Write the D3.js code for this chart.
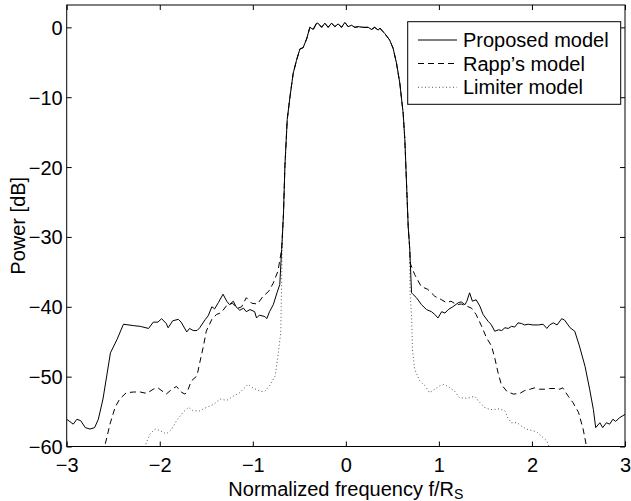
<!DOCTYPE html>
<html>
<head>
<meta charset="utf-8">
<script src="https://cdn.jsdelivr.net/npm/d3@7"></script>
<style>
  html, body { margin: 0; padding: 0; background: #fff; }
  svg { display: block; }
  text { font-family: "Liberation Sans", Arial, Helvetica, sans-serif; fill: #000; }
</style>
</head>
<body>
<svg id="chart" width="631" height="501"></svg>
<script>
// ---- Data ----
const xTicks = [-3, -2, -1, 0, 1, 2, 3];
const yTicks = [-60, -50, -40, -30, -20, -10, 0];
const seriesNames = ["Proposed model", "Rapp\u2019s model", "Limiter model"];

// Shared main lobe (all three models coincide there)
const lobeF  = [-0.67, -0.655, -0.63, -0.60, -0.566, -0.53, -0.494, -0.459, -0.42, -0.387, -0.35, -0.315, -0.30, -0.26, -0.226, -0.19, -0.154, -0.118, -0.082, -0.047, -0.011, 0.025, 0.061, 0.097, 0.133, 0.19, 0.24, 0.275, 0.31, 0.348, 0.365, 0.419, 0.47, 0.508, 0.544, 0.58, 0.616, 0.634, 0.652, 0.67];
const lobeDb = [-26.6, -19.9, -13.2, -9.9, -6.6, -4.7, -3.1, -2.9, -1.6, 0.0, -0.3, 0.6, 0.6, 0.0, 0.6, 0.0, 0.6, 0.1, 0.5, 0.0, 0.7, 0.1, 0.3, 0.0, 0.1, 0.0, 0.0, -0.3, 0.0, -0.4, -0.1, -0.9, -1.8, -3.0, -5.1, -8.0, -12.3, -16.1, -22.3, -28.5];

// Proposed model: outer parts
const propLeftF  = [-3.0, -2.93, -2.89, -2.85, -2.80, -2.75, -2.70, -2.66, -2.61, -2.53, -2.46, -2.39, -2.28, -2.21, -2.12, -2.07, -2.02, -1.98, -1.93, -1.91, -1.86, -1.80, -1.77, -1.71, -1.68, -1.64, -1.60, -1.57, -1.51, -1.48, -1.44, -1.41, -1.37, -1.32, -1.28, -1.25, -1.21, -1.18, -1.14, -1.10, -1.07, -1.03, -0.98, -0.96, -0.93, -0.87, -0.85, -0.82, -0.78, -0.74, -0.71, -0.69];
const propLeftDb = [-56.1, -56.8, -56.1, -56.3, -57.3, -57.5, -57.3, -56.1, -53.2, -46.6, -44.7, -42.5, -42.7, -42.8, -43.1, -42.2, -42.2, -41.7, -42.4, -43.0, -42.0, -41.8, -42.2, -43.6, -43.1, -43.4, -43.4, -43.0, -41.8, -41.3, -40.0, -40.3, -39.4, -38.2, -39.2, -39.7, -39.2, -40.0, -40.5, -40.2, -40.7, -40.4, -40.7, -41.6, -41.2, -41.4, -41.7, -40.7, -39.7, -38.0, -36.8, -31.8];
const propRightF  = [0.687, 0.706, 0.72, 0.759, 0.813, 0.867, 0.92, 0.956, 0.99, 1.03, 1.065, 1.10, 1.15, 1.21, 1.24, 1.28, 1.30, 1.33, 1.36, 1.40, 1.44, 1.475, 1.53, 1.56, 1.60, 1.64, 1.675, 1.71, 1.745, 1.78, 1.815, 1.85, 1.89, 1.92, 1.96, 2.01, 2.07, 2.12, 2.16, 2.19, 2.23, 2.27, 2.32, 2.35, 2.41, 2.46, 2.51, 2.57, 2.62, 2.66, 2.685, 2.73, 2.76, 2.80, 2.835, 2.87, 2.90, 2.94, 3.0];
const propRightDb = [-31.8, -38.0, -38.2, -38.7, -39.7, -40.4, -40.7, -41.1, -41.6, -40.7, -40.9, -40.4, -40.0, -39.4, -39.3, -39.7, -39.2, -38.0, -39.2, -39.0, -39.9, -41.1, -42.1, -42.5, -43.5, -43.3, -43.4, -43.0, -43.1, -42.8, -42.9, -42.3, -42.4, -42.6, -42.5, -42.6, -42.6, -42.5, -43.1, -42.6, -42.3, -42.6, -41.7, -41.9, -43.0, -43.5, -45.6, -48.5, -51.8, -54.7, -57.3, -56.6, -57.3, -56.6, -56.8, -56.1, -56.4, -55.9, -55.4];

// Rapp's model: outer parts
const rappLeftF  = [-2.61, -2.59, -2.535, -2.48, -2.43, -2.36, -2.28, -2.21, -2.14, -2.07, -2.02, -1.96, -1.93, -1.87, -1.82, -1.77, -1.73, -1.70, -1.66, -1.60, -1.57, -1.53, -1.50, -1.44, -1.39, -1.35, -1.32, -1.28, -1.22, -1.16, -1.12, -1.07, -1.01, -0.95, -0.89, -0.83, -0.78, -0.73, -0.69];
const rappLeftDb = [-61.0, -59.9, -56.8, -54.4, -53.2, -52.3, -52.2, -52.2, -52.4, -51.8, -51.6, -52.2, -52.5, -51.8, -51.4, -52.2, -52.5, -52.0, -50.6, -49.9, -48.0, -45.6, -43.5, -41.8, -41.1, -40.9, -40.5, -39.8, -39.5, -40.2, -40.0, -38.7, -39.5, -39.6, -38.5, -37.8, -36.6, -34.9, -31.8];
const rappRightF  = [0.687, 0.69, 0.74, 0.81, 0.88, 0.956, 1.03, 1.08, 1.13, 1.19, 1.24, 1.30, 1.35, 1.40, 1.46, 1.51, 1.565, 1.60, 1.635, 1.67, 1.73, 1.80, 1.87, 1.92, 1.98, 2.03, 2.08, 2.14, 2.19, 2.25, 2.30, 2.33, 2.39, 2.44, 2.50, 2.55, 2.585, 2.60];
const rappRightDb = [-31.8, -33.7, -35.4, -37.1, -37.5, -38.5, -39.0, -39.4, -39.2, -39.7, -39.6, -39.9, -40.2, -41.1, -42.8, -44.4, -45.6, -47.3, -49.4, -51.1, -52.1, -52.5, -52.4, -52.0, -51.8, -51.6, -51.8, -51.8, -51.7, -51.7, -51.8, -51.6, -52.8, -53.7, -55.1, -57.5, -59.9, -61.0];

// Limiter model: outer parts
const limLeftF  = [-2.20, -2.16, -2.105, -2.05, -2.0, -1.93, -1.87, -1.82, -1.75, -1.69, -1.64, -1.57, -1.50, -1.425, -1.35, -1.28, -1.21, -1.14, -1.05, -1.0, -0.92, -0.87, -0.82, -0.76, -0.73, -0.70, -0.69, -0.685];
const limLeftDb = [-61.0, -60.0, -58.2, -57.5, -57.7, -58.2, -57.5, -56.3, -55.1, -54.4, -54.9, -54.9, -54.4, -54.0, -53.2, -53.4, -52.8, -52.3, -51.1, -51.6, -52.1, -52.1, -51.3, -49.9, -47.1, -43.7, -36.6, -31.8];
const limRightF  = [0.687, 0.69, 0.706, 0.716, 0.74, 0.795, 0.85, 0.90, 0.956, 1.01, 1.06, 1.12, 1.17, 1.22, 1.28, 1.33, 1.385, 1.44, 1.49, 1.55, 1.60, 1.65, 1.71, 1.74, 1.78, 1.84, 1.89, 1.94, 1.995, 2.05, 2.10, 2.16, 2.185, 2.20];
const limRightDb = [-31.8, -38.0, -41.3, -46.1, -49.0, -50.6, -51.3, -52.3, -51.8, -51.3, -51.1, -51.6, -52.1, -53.0, -53.1, -53.0, -52.8, -53.7, -54.4, -54.7, -54.7, -54.6, -54.9, -55.9, -56.6, -56.6, -57.1, -57.5, -57.7, -57.9, -58.5, -59.2, -60.0, -61.0];

// ---- Build series ----
function join(fParts, dParts) {
  const f = [].concat(...fParts), d = [].concat(...dParts);
  return f.map((v, i) => ({ f: v, db: d[i] }));
}
const series = [
  { name: seriesNames[0], dash: null,  color: "#000", width: 1,   pts: join([propLeftF, lobeF, propRightF], [propLeftDb, lobeDb, propRightDb]) },
  { name: seriesNames[1], dash: "6,4", color: "#000", width: 1,   pts: join([rappLeftF, lobeF, rappRightF], [rappLeftDb, lobeDb, rappRightDb]) },
  { name: seriesNames[2], dash: "1,2.5", color: "#555", width: 1, pts: join([limLeftF, lobeF, limRightF], [limLeftDb, lobeDb, limRightDb]) }
];

// ---- Layout ----
const svg = d3.select("#chart");
const L = 66.7, R = 625, T = 5, B = 446.5;
const x = d3.scaleLinear().domain([-3, 3]).range([L, R]);
const y = d3.scaleLinear().domain([-60, 3.2]).range([B, T]);
const FS = 20;

svg.append("defs").append("clipPath").attr("id", "clip")
  .append("rect").attr("x", L).attr("y", T).attr("width", R - L).attr("height", B - T);

svg.append("rect").attr("x", L).attr("y", T).attr("width", R - L).attr("height", B - T)
  .attr("fill", "#fff");

// lines
const line = d3.line().x(d => x(d.f)).y(d => y(d.db));
const gLines = svg.append("g").attr("clip-path", "url(#clip)");
series.slice().reverse().forEach(s => {
  gLines.append("path").datum(s.pts)
    .attr("d", line)
    .attr("fill", "none")
    .attr("stroke", s.color)
    .attr("stroke-width", s.width)
    .attr("stroke-dasharray", s.dash)
    .attr("stroke-linejoin", "round");
});

// axes with inward ticks (MATLAB style) on all four sides
const tickLen = 5;
const fmt = d => d3.format("d")(d).replace("-", "\u2212");
const axB = d3.axisBottom(x).tickValues(xTicks).tickSizeInner(-tickLen).tickSizeOuter(0).tickFormat(fmt);
const axT = d3.axisTop(x).tickValues(xTicks).tickSizeInner(-tickLen).tickSizeOuter(0).tickFormat("");
const axL = d3.axisLeft(y).tickValues(yTicks).tickSizeInner(-tickLen).tickSizeOuter(0).tickPadding(4).tickFormat(fmt);
const axR = d3.axisRight(y).tickValues(yTicks).tickSizeInner(-tickLen).tickSizeOuter(0).tickFormat("");

function style(g) {
  g.select(".domain").remove();
  g.selectAll("line").attr("stroke", "#000").attr("stroke-width", 1);
  g.selectAll("text").attr("font-size", FS).attr("font-family", null).attr("fill", "#000");
}
svg.append("g").attr("transform", `translate(0,${B})`).call(axB).call(style)
  .selectAll("text").attr("dy", null).attr("y", 25.2);
svg.append("g").attr("transform", `translate(0,${T})`).call(axT).call(style);
svg.append("g").attr("transform", `translate(${L},0)`).call(axL).call(style)
  .selectAll("text").attr("dy", "0.35em");
svg.append("g").attr("transform", `translate(${R},0)`).call(axR).call(style);

// box
svg.append("rect").attr("x", L).attr("y", T).attr("width", R - L).attr("height", B - T)
  .attr("fill", "none").attr("stroke", "#000").attr("stroke-width", 1);

// axis labels
const xl = svg.append("text").attr("x", (L + R) / 2).attr("y", 495.5)
  .attr("text-anchor", "middle").attr("font-size", FS);
xl.append("tspan").text("Normalized frequency f/R");
xl.append("tspan").attr("font-size", 14).attr("dy", 3).text("S");

svg.append("text")
  .attr("transform", `translate(25,${(T + B) / 2}) rotate(-90)`)
  .attr("text-anchor", "middle").attr("font-size", FS)
  .text("Power [dB]");

// legend
const lg = svg.append("g");
lg.append("rect").attr("x", 407.7).attr("y", 21.7).attr("width", 213).attr("height", 82.6)
  .attr("fill", "#fff").attr("stroke", "#000").attr("stroke-width", 1);
const rowY = [40, 63.5, 87.3];
series.forEach((s, i) => {
  lg.append("line").attr("x1", 418).attr("x2", 457).attr("y1", rowY[i]).attr("y2", rowY[i])
    .attr("stroke", s.color).attr("stroke-width", s.width).attr("stroke-dasharray", s.dash);
  lg.append("text").attr("x", 463).attr("y", rowY[i] + 7).attr("font-size", FS).text(s.name);
});
</script>
</body>
</html>
